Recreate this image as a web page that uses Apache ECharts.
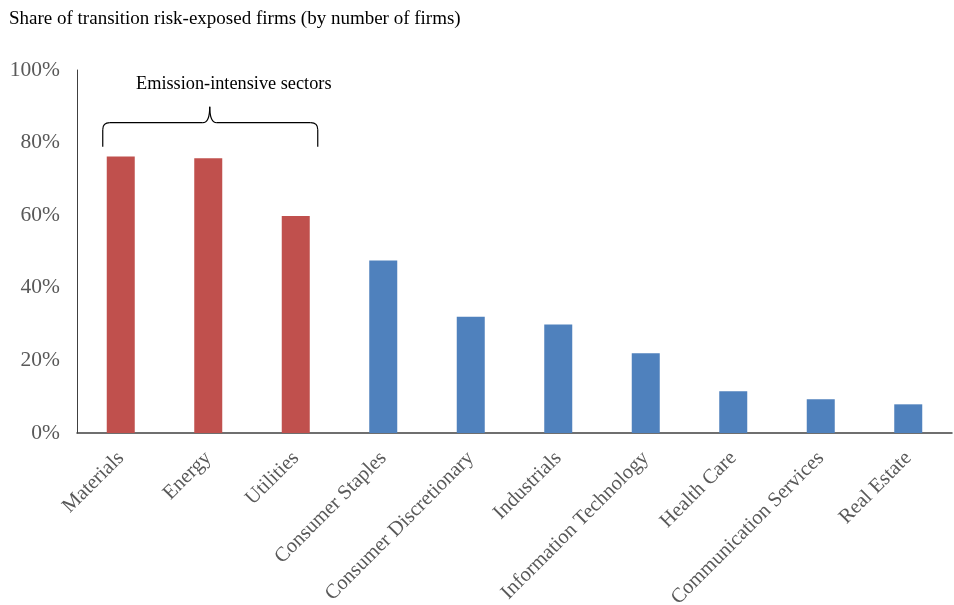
<!DOCTYPE html>
<html>
<head>
<meta charset="utf-8">
<script src="https://cdn.jsdelivr.net/npm/echarts@6/dist/echarts.min.js"></script>
<style>
  html, body { margin: 0; padding: 0; background: #fff; }
  #chart { width: 954px; height: 605px; }
</style>
</head>
<body>
<div id="chart"></div>
<script>
// Sectors, ordered by share of transition risk-exposed firms
const sectors = [
  'Materials', 'Energy', 'Utilities', 'Consumer Staples', 'Consumer Discretionary',
  'Industrials', 'Information Technology', 'Health Care', 'Communication Services', 'Real Estate'
];
// Share of firms exposed (%)
const shares = [76.2, 75.7, 59.8, 47.5, 32.0, 29.9, 22.0, 11.5, 9.3, 7.9];
// Emission-intensive sectors are highlighted
const emissionIntensive = ['Materials', 'Energy', 'Utilities'];
const yTicks = [0, 20, 40, 60, 80, 100];

const RED = '#C0504D';
const BLUE = '#4F81BD';
const FONT = '"Liberation Serif", "Times New Roman", serif';

const chart = echarts.init(document.getElementById('chart'));

chart.setOption({
  animation: false,
  title: {
    text: 'Share of transition risk-exposed firms (by number of firms)',
    left: 4, top: 5,
    textStyle: { fontFamily: FONT, fontSize: 19, fontWeight: 'normal', color: '#000' }
  },
  grid: {
    left: 77, right: 2, top: 70, bottom: 172,
    containLabel: false, outerBoundsMode: 'none'
  },
  xAxis: {
    type: 'category',
    data: sectors,
    axisLine: { lineStyle: { color: '#404040', width: 1.5 } },
    axisTick: { show: false },
    axisLabel: {
      rotate: 45, margin: 22, interval: 0,
      fontFamily: FONT, fontSize: 20.5, color: '#595959'
    }
  },
  yAxis: {
    type: 'value',
    min: yTicks[0], max: yTicks[yTicks.length - 1], interval: 20,
    axisLine: { show: true, lineStyle: { color: '#404040', width: 1 } },
    axisTick: { show: false },
    splitLine: { show: false },
    axisLabel: {
      margin: 17, fontFamily: FONT, fontSize: 21.5, color: '#595959',
      formatter: v => v + '%'
    }
  },
  series: [{
    type: 'bar',
    barWidth: 28,
    data: shares.map((v, i) => ({
      value: v,
      itemStyle: { color: emissionIntensive.includes(sectors[i]) ? RED : BLUE }
    }))
  }]
});

// Curly bracket grouping the emission-intensive sectors
function drawBracket() {
  const first = chart.convertToPixel({ xAxisIndex: 0 }, emissionIntensive[0]);
  const mid = chart.convertToPixel({ xAxisIndex: 0 }, emissionIntensive[1]);
  const last = chart.convertToPixel({ xAxisIndex: 0 }, emissionIntensive[emissionIntensive.length - 1]);
  const x0 = first - 18, x1 = last + 22, xm = mid + 1.5;
  const yTop = chart.convertToPixel({ yAxisIndex: 0 }, 85.5);
  const yEnd = yTop + 24, yPeak = yTop - 16, r = 7;
  const stroke = { stroke: '#000', lineWidth: 1.2, fill: null };
  const line = (a, b, c, d) => ({ type: 'line', shape: { x1: a, y1: b, x2: c, y2: d }, style: stroke });
  const curve = (a, b, cx, cy, c, d) => ({
    type: 'bezierCurve',
    shape: { x1: a, y1: b, cpx1: cx, cpy1: cy, x2: c, y2: d },
    style: stroke
  });
  chart.setOption({
    graphic: [
      line(x0, yEnd, x0, yTop + r),
      curve(x0, yTop + r, x0, yTop, x0 + r, yTop),
      line(x0 + r, yTop, xm - r, yTop),
      curve(xm - r, yTop, xm, yTop, xm, yPeak),
      curve(xm, yPeak, xm, yTop, xm + r, yTop),
      line(xm + r, yTop, x1 - r, yTop),
      curve(x1 - r, yTop, x1, yTop, x1, yTop + r),
      line(x1, yTop + r, x1, yEnd),
      {
        type: 'text',
        x: xm + 24, y: yPeak - 13,
        style: {
          text: 'Emission-intensive sectors',
          fontFamily: FONT, fontSize: 18.3, fill: '#000',
          align: 'center', verticalAlign: 'bottom'
        }
      }
    ]
  });
}
drawBracket();
</script>
</body>
</html>
